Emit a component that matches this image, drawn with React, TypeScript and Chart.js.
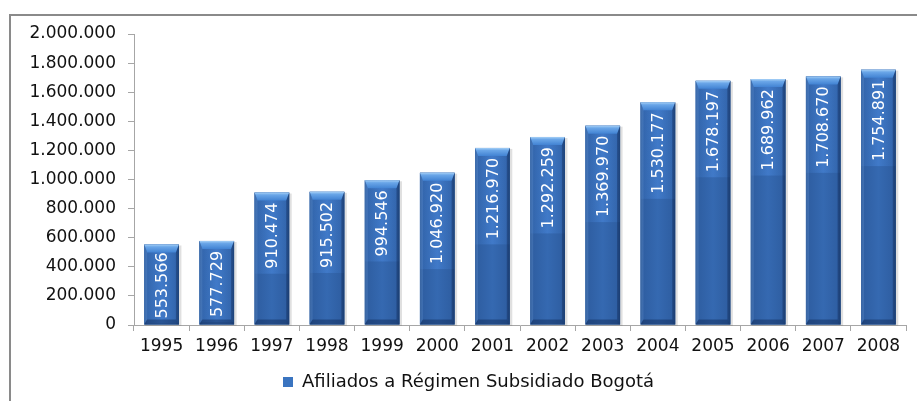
import { useEffect, useRef } from "react";
import { Chart, registerables } from "chart.js";

Chart.register(...registerables);

const categories = ["1995", "1996", "1997", "1998", "1999", "2000", "2001", "2002", "2003", "2004", "2005", "2006", "2007", "2008"];
const afiliados = [553566, 577729, 910474, 915502, 994546, 1046920, 1216970, 1292259, 1369970, 1530177, 1678197, 1689962, 1708670, 1754891];
const seriesLabel = "Afiliados a Régimen Subsidiado Bogotá";
const yMin = 0;
const yMax = 2000000;
const yStep = 200000;

const FONT = "'DejaVu Sans', sans-serif";

const fmt = (v: number) => String(Math.round(v)).replace(/\B(?=(\d{3})+(?!\d))/g, ".");

const quad = (ctx: CanvasRenderingContext2D, pts: number[][], fill: string | CanvasGradient) => {
  ctx.beginPath();
  ctx.moveTo(pts[0][0], pts[0][1]);
  for (let i = 1; i < pts.length; i++) ctx.lineTo(pts[i][0], pts[i][1]);
  ctx.closePath();
  ctx.fillStyle = fill;
  ctx.fill();
};

const framePlugin = {
  id: "frame",
  beforeDraw(chart: any) {
    const ctx = chart.ctx as CanvasRenderingContext2D;
    ctx.save();
    ctx.fillStyle = "#ffffff";
    ctx.fillRect(0, 0, chart.width, chart.height);
    ctx.strokeStyle = "#8a8a8a";
    ctx.lineWidth = 2;
    ctx.beginPath();
    ctx.moveTo(10, chart.height);
    ctx.lineTo(10, 15);
    ctx.lineTo(chart.width, 15);
    ctx.stroke();
    ctx.restore();
  },
};

const legendShift = {
  id: "legendShift",
  afterLayout(chart: any) {
    if (chart.legend) {
      chart.legend.left = 273;
      chart.legend.right = chart.width;
    }
  },
};

const bevelPlugin = {
  id: "bevel",
  afterDatasetsDraw(chart: any) {
    const ctx = chart.ctx as CanvasRenderingContext2D;
    const meta = chart.getDatasetMeta(0);
    const data = chart.data.datasets[0].data as number[];
    ctx.save();
    meta.data.forEach((el: any, i: number) => {
      const { x, y, width, base } = el.getProps(["x", "y", "width", "base"], true);
      const l = x - width / 2;
      const r = x + width / 2;
      const t = y;
      const b = base;
      // shadow
      ctx.fillStyle = "rgba(0,0,0,0.12)";
      ctx.fillRect(l + 1, t + 1, width + 1.5, b - t);
      // body
      const g = ctx.createLinearGradient(l, 0, r, 0);
      g.addColorStop(0, "#244d86");
      g.addColorStop(0.1, "#2f5fa3");
      g.addColorStop(0.5, "#3569b1");
      g.addColorStop(0.9, "#2f5fa3");
      g.addColorStop(1, "#234a82");
      ctx.fillStyle = g;
      ctx.fillRect(l, t, width, b - t);
      const bt = 8;
      const bs = 3;
      const bb = 5;

      // label metrics
      const text = fmt(data[i]);
      ctx.font = `16px ${FONT}`;
      const w = ctx.measureText(text).width;
      const top = Math.min(t + 10, b - 6 - w);
      // lighter label region
      const lg = ctx.createLinearGradient(l, 0, r, 0);
      lg.addColorStop(0, "rgba(80,150,240,0.10)");
      lg.addColorStop(0.5, "rgba(90,160,255,0.30)");
      lg.addColorStop(1, "rgba(80,150,240,0.10)");
      ctx.fillStyle = lg;
      ctx.fillRect(l, t, width, top + w + 5 - t);

      // top bevel
      const tg = ctx.createLinearGradient(0, t, 0, t + bt);
      tg.addColorStop(0, "#a6d0f6");
      tg.addColorStop(0.3, "#6aa6e8");
      tg.addColorStop(1, "#4283d3");
      quad(ctx, [[l, t], [r, t], [r - bs, t + bt], [l + bs, t + bt]], tg);
      // sides
      quad(ctx, [[l, t], [l + bs, t + bt], [l + bs, b - bb], [l, b]], "rgba(110,160,225,0.30)");
      quad(ctx, [[r, t], [r - bs, t + bt], [r - bs, b - bb], [r, b]], "rgba(15,40,85,0.35)");
      // bottom
      quad(ctx, [[l, b], [l + bs, b - bb], [r - bs, b - bb], [r, b]], "rgba(15,40,85,0.45)");

      ctx.save();
      ctx.translate(x + 1, top);
      ctx.rotate(-Math.PI / 2);
      ctx.fillStyle = "#ffffff";
      ctx.textAlign = "right";
      ctx.textBaseline = "middle";
      ctx.fillText(text, 0, 0);
      ctx.restore();
    });
    ctx.restore();
  },
};

export default function App() {
  const ref = useRef<HTMLCanvasElement | null>(null);

  useEffect(() => {
    if (!ref.current) return;
    const chart = new Chart(ref.current, {
      type: "bar",
      data: {
        labels: categories,
        datasets: [
          {
            label: seriesLabel,
            data: afiliados,
            backgroundColor: "#3a74c0",
            borderColor: "#2a5a97",
            borderWidth: 0,
            barPercentage: 0.63,
            categoryPercentage: 1,
          },
        ],
      },
      options: {
        responsive: false,
        animation: false,
        devicePixelRatio: 1,
        layout: { padding: { left: 0, right: 11, top: 34, bottom: 0 } },
        scales: {
          y: {
            min: yMin,
            max: yMax,
            ticks: {
              stepSize: yStep,
              font: { family: FONT, size: 17 },
              color: "#111",
              padding: 12,
              callback: (v: any) => fmt(Number(v)),
            },
            grid: { drawOnChartArea: false, drawTicks: true, tickLength: 6, color: "#a6a6a6" },
            border: { color: "#a6a6a6", width: 1 },
            afterFit: (s: any) => {
              s.width = 134;
            },
          },
          x: {
            ticks: { font: { family: FONT, size: 17 }, color: "#111", padding: 5, maxRotation: 0, autoSkip: false },
            grid: { drawOnChartArea: false, drawTicks: true, tickLength: 6, color: "#a6a6a6", offset: true },
            border: { color: "#a6a6a6", width: 1 },
            afterFit: (s: any) => {
              s.height = 38;
            },
          },
        },
        plugins: {
          legend: {
            position: "bottom",
            align: "start",
            labels: {
              boxWidth: 10,
              boxHeight: 10,
              padding: 10,
              color: "#111",
              font: { family: FONT, size: 18 },
            },
          },
          tooltip: { enabled: false },
        },
      },
      plugins: [framePlugin, legendShift, bevelPlugin],
    });
    return () => chart.destroy();
  }, []);

  return (
    <div style={{ position: "absolute", left: 0, top: 0, width: 917, height: 401, background: "#fff" }}>
      <canvas ref={ref} width={917} height={401} />
    </div>
  );
}
